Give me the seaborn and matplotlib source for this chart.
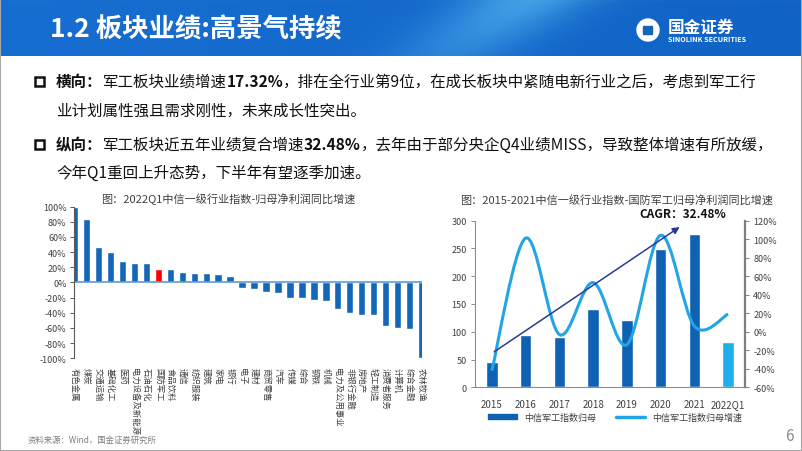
import numpy as np
import pandas as pd
import seaborn as sns
import matplotlib.pyplot as plt
from matplotlib.path import Path
from matplotlib.patches import PathPatch, Rectangle, Circle, FancyBboxPatch
from matplotlib.lines import Line2D
from matplotlib.ticker import MultipleLocator, FuncFormatter

# ---- data ----
industries = ["有色金属", "煤炭", "交通运输", "基础化工", "医药", "电力设备及新能源", "石油石化",
              "国防军工", "食品饮料", "通信", "纺织服装", "建筑", "家电", "银行", "电子", "建材",
              "商贸零售", "汽车", "传媒", "综合", "钢铁", "机械", "电力及公用事业", "非银行金融",
              "房地产", "轻工制造", "消费者服务", "计算机", "综合金融", "农林牧渔"]
growth_q1 = [100, 83, 46, 40, 28, 26, 26, 17.32, 17, 14, 13, 12, 11, 9, -8, -9, -13, -14,
             -20, -20, -23, -25, -35, -40, -43, -43, -57, -60, -61, -100]
highlight = "国防军工"

years = ["2015", "2016", "2017", "2018", "2019", "2020", "2021", "2022Q1"]
profit = [46, 94, 91, 140, 121, 248, 276, 81]
profit_growth = [-42, 101, -3, 53, -14, 104, 6, 19]

title_main = "1.2 板块业绩:高景气持续"
title_left = "图：2022Q1中信一级行业指数-归母净利润同比增速"
title_right = "图：2015-2021中信一级行业指数-国防军工归母净利润同比增速"
cagr_label = "CAGR：32.48%"
legend_labels = ["中信军工指数归母", "中信军工指数归母增速"]
source = "资料来源：Wind，国金证券研究所"

line1 = [("横向：", True), ("军工板块业绩增速", False), ("17.32%", True),
         ("，排在全行业第9位，在成长板块中紧随电新行业之后，考虑到军工行", False)]
line2 = [("业计划属性强且需求刚性，未来成长性突出。", False)]
line3 = [("纵向：", True), ("军工板块近五年业绩复合增速", False), ("32.48%", True),
         ("，去年由于部分央企Q4业绩MISS，导致整体增速有所放缓，", False)]
line4 = [("今年Q1重回上升态势，下半年有望逐季加速。", False)]

# ---- style ----
sns.set_style("white")
plt.rcParams["font.family"] = ["Noto Sans CJK SC", "DejaVu Sans"]
plt.rcParams["axes.unicode_minus"] = False

W, H = 802, 452
fig = plt.figure(figsize=(W / 100, H / 100), dpi=100)
fig.patch.set_facecolor("white")


def fx(px):
    return px / W


def fy(py):
    return 1 - py / H


# ---- banner ----
ban = fig.add_axes([0, fy(57), 1, 57 / H])
gx, gy = np.meshgrid(np.linspace(0, 1, 802), np.linspace(0, 1, 57))
base = np.array([0.09, 0.43, 0.82])
dark = np.array([0.04, 0.35, 0.73])
light = np.array([0.32, 0.70, 0.94])
img = base * (1 - 0.5 * gx[..., None]) + dark * (0.5 * gx[..., None])
sw = np.exp(-((gx - 0.66 + 0.10 * gy) / 0.08) ** 2) * (1 - 0.5 * gy)
img = img * (1 - 0.75 * sw[..., None]) + light * (0.75 * sw[..., None])
ban.imshow(img, aspect="auto", extent=[0, 802, 57, 0])
ban.set_xlim(0, 802)
ban.set_ylim(57, 0)
ban.axis("off")
ban.text(50, 30, title_main, color="white", fontsize=19, fontweight="bold", va="center", ha="left")
ban.add_patch(Circle((648, 31), 11, color="white"))
ban.add_patch(FancyBboxPatch((644, 28), 8, 7, boxstyle="round,pad=0.5", color="#1466B8"))
ban.text(668, 28, "国金证券", color="white", fontsize=12, fontweight="bold", va="center", ha="left")
ban.text(668, 40, "SINOLINK SECURITIES", color="white", fontsize=5.2, fontweight="bold",
         va="center", ha="left")

# ---- bullet text ----
overlay = fig.add_axes([0, 0, 1, 1])
overlay.axis("off")


def write_runs(x, y, runs, size=11.2):
    prev = None
    for txt, bold in runs:
        kw = dict(fontsize=size, fontweight="bold" if bold else "normal", color="#111111",
                  va="center", ha="left")
        if prev is None:
            prev = overlay.text(fx(x), fy(y), txt, transform=fig.transFigure, **kw)
        else:
            prev = overlay.annotate(txt, xy=(1, 0.5), xycoords=prev, **kw)


for yy in (82, 145):
    fig.add_artist(Rectangle((fx(35), fy(yy + 5)), 9 / W, 9 / H, transform=fig.transFigure,
                             fill=False, edgecolor="#111111", lw=1.8))
write_runs(56, 82, line1)
write_runs(56, 111, line2)
write_runs(56, 145, line3)
write_runs(56, 173, line4)

# ---- left chart ----
ax1 = fig.add_axes([fx(73.5), fy(359.3), fx(421.5) - fx(73.5), (359.3 - 207.5) / H])
df1 = pd.DataFrame({"industry": industries, "growth": growth_q1})
pal1 = {k: ("#FF0000" if k == highlight else "#1466B8") for k in industries}
sns.barplot(data=df1, x="industry", y="growth", hue="industry", palette=pal1, legend=False,
            width=0.62, saturation=1, ax=ax1)
ax1.set_ylim(-100, 100)
ax1.set_xlim(-0.1, 29.0)
ax1.yaxis.set_major_locator(MultipleLocator(20))
ax1.yaxis.set_major_formatter(FuncFormatter(lambda v, p: f"{v:.0f}%"))
ax1.axhline(0, color="#5B9BD5", lw=1.2, zorder=3)
for s in ("top", "right", "bottom"):
    ax1.spines[s].set_visible(False)
ax1.spines["left"].set_color("#595959")
ax1.spines["left"].set_linewidth(0.8)
ax1.spines["left"].set_zorder(4)
ax1.tick_params(axis="y", left=True, length=3, width=0.7, color="#595959", labelsize=6.5,
                labelcolor="#404040", pad=2)
ax1.tick_params(axis="x", bottom=False, labelsize=6, labelcolor="#404040", pad=3)
for lab in ax1.get_xticklabels():
    lab.set_rotation(270)
    lab.set_va("top")
    lab.set_ha("center")
ax1.set_xlabel("")
ax1.set_ylabel("")
fig.text(fx(228), fy(199), title_left, ha="center", va="center", fontsize=8, color="#404040")

# ---- right chart ----
ax2 = fig.add_axes([fx(475), fy(388.3), fx(745) - fx(475), (388.3 - 221.5) / H])
df2 = pd.DataFrame({"year": years, "profit": profit})
pal2 = {y: "#0F62B3" for y in years}
pal2["2022Q1"] = "#1EAEEB"
sns.barplot(data=df2, x="year", y="profit", hue="year", palette=pal2, legend=False,
            width=0.34, saturation=1, ax=ax2)
ax2.set_ylim(0, 300)
ax2.set_xlim(-0.5, 7.5)
ax2.yaxis.set_major_locator(MultipleLocator(50))
ax2.set_xlabel("")
ax2.set_ylabel("")
ax2.spines["top"].set_visible(False)
ax2.spines["right"].set_visible(False)
for s in ("left", "bottom"):
    ax2.spines[s].set_color("#8C8C8C")
    ax2.spines[s].set_linewidth(0.8)
ax2.tick_params(axis="y", left=True, length=3, width=0.7, color="#8C8C8C", labelsize=6.5,
                labelcolor="#404040", pad=3)
ax2.tick_params(axis="x", bottom=False, labelsize=7, labelcolor="#404040", pad=5)

ax3 = ax2.twinx()
ax3.set_ylim(-60, 120)
ax3.yaxis.set_major_locator(MultipleLocator(20))
ax3.yaxis.set_major_formatter(FuncFormatter(lambda v, p: f"{v:.0f}%"))
for s in ("top", "left", "bottom"):
    ax3.spines[s].set_visible(False)
ax3.spines["right"].set_color("#7F7F7F")
ax3.spines["right"].set_linewidth(1.6)
ax3.tick_params(axis="y", right=True, length=3, width=0.7, color="#7F7F7F", labelsize=6.5,
                labelcolor="#404040", pad=3)


def smooth_path(xv, yv):
    pts = np.column_stack([xv, yv]).astype(float)
    ext = np.vstack([pts[0], pts, pts[-1]])
    verts = [tuple(pts[0])]
    codes = [Path.MOVETO]
    for i in range(len(pts) - 1):
        p0, p1, p2, p3 = ext[i], ext[i + 1], ext[i + 2], ext[i + 3]
        verts += [tuple(p1 + (p2 - p0) / 6), tuple(p2 - (p3 - p1) / 6), tuple(p2)]
        codes += [Path.CURVE4] * 3
    return Path(verts, codes)


line_color = "#22A5E6"
ax3.add_patch(PathPatch(smooth_path(np.arange(len(years)), profit_growth), facecolor="none",
                        edgecolor=line_color, lw=2.2, zorder=3))
ax3.annotate("", xy=(5.63, 114.6), xytext=(0, -23.4),
             arrowprops=dict(arrowstyle="-|>", color="#2B3A97", lw=1.1, mutation_scale=10),
             zorder=4)
fig.text(fx(683), fy(214), cagr_label, ha="center", va="center", fontsize=8.5,
         fontweight="bold", color="#111111")
fig.text(fx(617), fy(200), title_right, ha="center", va="center", fontsize=8, color="#404040")

handles = [Rectangle((0, 0), 1, 1, color="#0F62B3"), Line2D([0], [0], color=line_color, lw=2.5)]
fig.legend(handles, legend_labels, loc="center", bbox_to_anchor=(fx(615), fy(418)), ncol=2,
           frameon=False, fontsize=6.5, handlelength=3.2, handleheight=0.6,
           columnspacing=2.2, labelcolor="#404040")

# ---- footer ----
fig.text(fx(28), fy(440), source, fontsize=6, color="#7F7F7F", va="center")
fig.text(fx(789), fy(437), "6", fontsize=11, color="#8C8C8C", ha="center", va="center")
fig.add_artist(Rectangle((0, 0), 1, 1, transform=fig.transFigure, fill=False,
                         edgecolor="#A6A6A6", lw=1.5))

fig.savefig("out.png", dpi=100)
